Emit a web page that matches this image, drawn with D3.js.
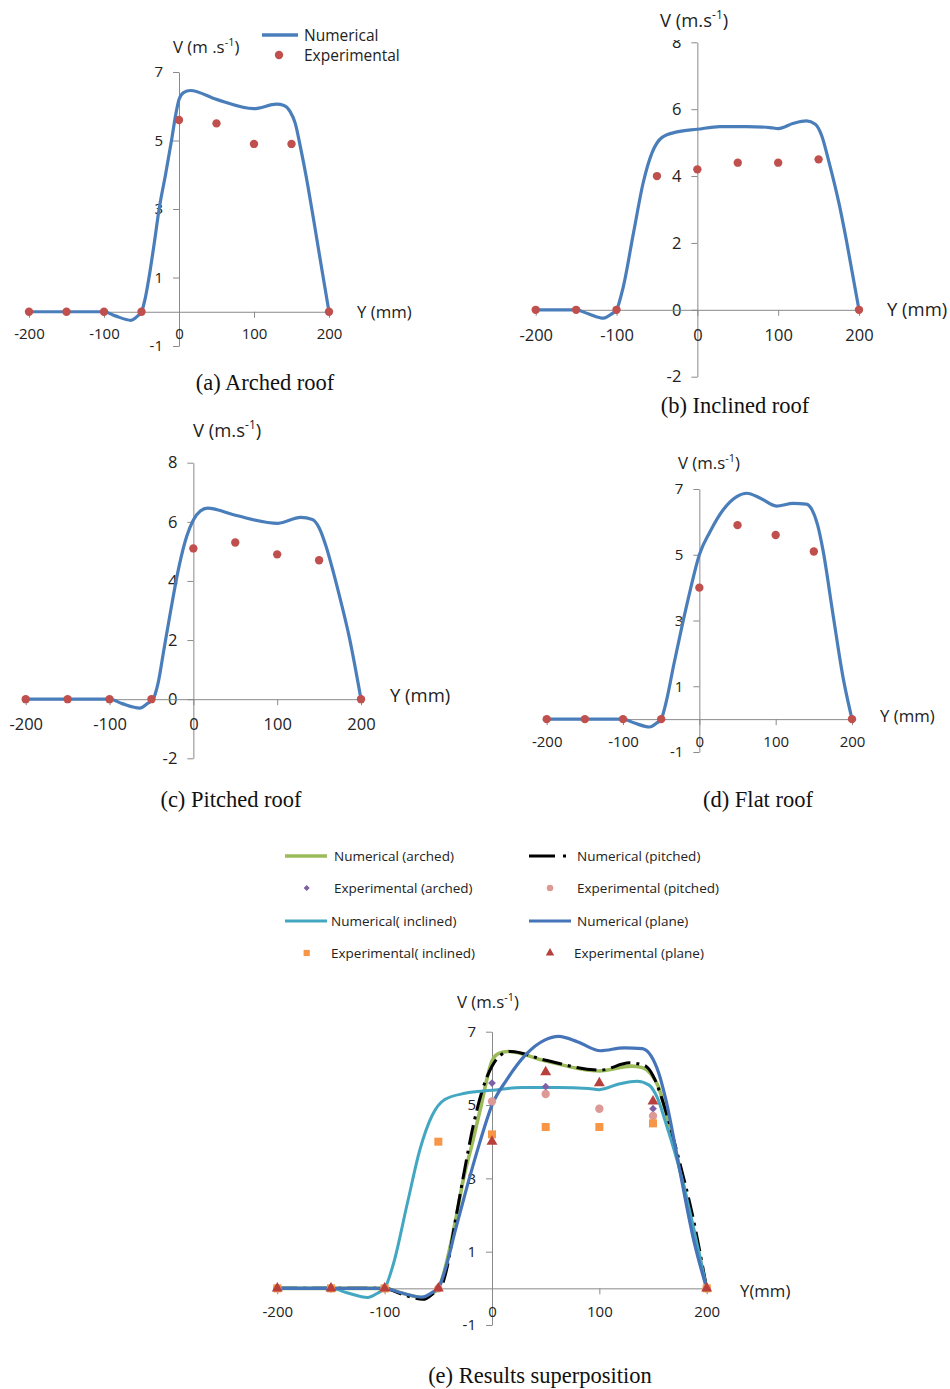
<!DOCTYPE html>
<html lang="en">
<head>
<meta charset="UTF-8">
<title>Velocity profiles</title>
<style>
  body { margin: 0; background: #fff; }
  svg text { font-family: "Open Sans", sans-serif; fill: #222; }
  svg text.cap { font-family: "Liberation Serif", serif; fill: #111; }
</style>
</head>
<body>
<div id="chart"></div>
<script src="https://cdn.jsdelivr.net/npm/d3@7/dist/d3.min.js"></script>
<script>
// ---- data ----
var xTicks = [-200, -100, 0, 100, 200];
var yTicksOdd = [-1, 1, 3, 5, 7];
var yTicksEven = [-2, 0, 2, 4, 6, 8];

// measurement positions, mm
var expY = [-200, -150, -100, -50, 0, 50, 100, 150, 200];
var expArched   = [0, 0, 0, 0,   5.6, 5.5, 4.9, 4.9, 0];
var expInclined = [0, 0, 0, 4.0, 4.2, 4.4, 4.4, 4.5, 0];
var expPitched  = [0, 0, 0, 0,   5.1, 5.3, 4.9, 4.7, 0];
var expPlane    = [0, 0, 0, 0,   4.0, 5.9, 5.6, 5.1, 0];

// numerical profiles [Y mm, V m/s]
var numArched = [[-200,0],[-150,0],[-100,0],[-85,-0.12],[-64,-0.25],[-55,-0.12],[-50,0],[-45,0.4],[-40,1],
  [-33,2],[-26.5,3],[-18,4],[-10,5],[-4,5.8],[0,6.2],[6,6.4],[15,6.46],[50,6.2],[100,5.93],[130,6.06],
  [140,6.02],[148,5.85],[155,5.5],[162,4.8],[170,3.9],[179,2.75],[190,1.3],[200,0]];
var numInclined = [[-200,0],[-150,0],[-135,-0.12],[-116,-0.25],[-106,-0.12],[-100,0],[-92,0.65],[-79,2.3],
  [-67,3.8],[-56,4.7],[-44,5.15],[-25,5.32],[0,5.4],[28,5.48],[61,5.48],[90,5.45],[100,5.42],[119,5.58],
  [135,5.65],[146,5.55],[154,5.2],[162,4.5],[176,3.1],[185,2.0],[200,0]];
var numPitched = [[-200,0],[-150,0],[-100,0],[-85,-0.15],[-64,-0.3],[-55,-0.15],[-48,0],[-42,0.55],[-35,1.7],
  [-27,3.0],[-17,4.5],[-8,5.5],[0,6.06],[8,6.36],[17,6.46],[49,6.23],[101,5.95],[128,6.15],[142,6.08],
  [150,5.8],[158,5.2],[167,4.3],[176,3.3],[186,2.1],[200,0]];
var numPlane = [[-200,0],[-150,0],[-100,0],[-85,-0.12],[-65,-0.24],[-56,-0.12],[-50,0],[-43,0.57],[-34,1.6],
  [-23,2.8],[-12,3.92],[0,5.0],[14,5.7],[31,6.36],[49,6.77],[62,6.87],[80,6.72],[101,6.48],[123,6.56],
  [140,6.54],[148,6.35],[155,5.9],[162,5.14],[175,3.2],[188,1.3],[200,0]];

var blue = "#4a7ebb", red = "#c0504d";

var svg = d3.select("#chart").append("svg")
    .attr("width", 950)
    .attr("height", 1389);

// the top of panel (b)'s "8" is cut off in the source figure
svg.append("defs").append("clipPath").attr("id", "clipB")
  .append("rect").attr("x", -100).attr("y", 40).attr("width", 120).attr("height", 400);

var line = function (x, y) {
  return d3.line()
    .x(function (d) { return x(d[0]); })
    .y(function (d) { return y(d[1]); })
    .curve(d3.curveMonotoneX);
};

function drawMarks(g, x, y, vals, m) {
  g.append("g").selectAll("path")
    .data(vals)
    .enter()
    .append("path")
    .attr("transform", function (d, i) { return "translate(" + x(expY[i]) + "," + y(d) + ")" + (m.rot ? " rotate(45)" : ""); })
    .attr("d", d3.symbol().type(m.shape).size(m.size))
    .attr("fill", m.color);
}

function vTitle(g, txt, px, py, fs) {
  var t = g.append("text").attr("x", px).attr("y", py + fs * 0.36).style("font-size", fs + "px");
  t.append("tspan").text(txt);
  t.append("tspan").attr("dy", -fs * 0.4).style("font-size", (fs * 0.65) + "px").text("-1");
  t.append("tspan").attr("dy", fs * 0.4).text(")");
}

function drawPanel(p) {
  var g = svg.append("g");
  var x = d3.scaleLinear().domain([-200, 200]).range([p.x0, p.x1]);
  var y = d3.scaleLinear().domain([p.yTicks[0], p.yTicks[p.yTicks.length - 1]]).range([p.yBot, p.yTop]);

  var ya = g.append("g")
    .attr("transform", "translate(" + x(0) + ",0)")
    .call(d3.axisLeft(y).tickValues(p.yTicks).tickSize(6).tickSizeOuter(0).tickPadding(10)
      .tickFormat(function (d) { return String(d); }));
  if (p.clip) ya.attr("clip-path", "url(#" + p.clip + ")");

  var xa = g.append("g")
    .attr("transform", "translate(0," + y(0) + ")")
    .call(d3.axisBottom(x).tickValues(xTicks).tickSize(6).tickSizeOuter(0).tickPadding(p.xPad)
      .tickFormat(function (d) { return String(d); }));

  [ya, xa].forEach(function (a) {
    a.selectAll("path, line").attr("stroke", "#8a8a8a").attr("stroke-width", 1);
    a.selectAll("text").attr("fill", "#222").style("font-size", p.fs + "px")
      .style("font-family", "'Open Sans', sans-serif");
  });

  p.lines.forEach(function (l) {
    g.append("path")
      .datum(l.data)
      .attr("d", line(x, y))
      .attr("fill", "none")
      .attr("stroke", l.color)
      .attr("stroke-width", l.width)
      .attr("stroke-dasharray", l.dash || null);
  });
  p.marks.forEach(function (m) { drawMarks(g, x, y, m.values, m); });

  var tf = p.fs * 1.12;
  vTitle(g, p.vText, p.vPos[0], p.vPos[1], tf);
  g.append("text").attr("x", p.yLab[0]).attr("y", p.yLab[1] + tf * 0.36)
    .style("font-size", tf + "px").text(p.yText);
  g.append("text").attr("class", "cap").attr("x", p.capPos[0]).attr("y", p.capPos[1] + 7)
    .attr("text-anchor", "middle").style("font-size", "22.5px").text(p.cap);
}

function single(num, exp) {
  return {
    lines: [{ data: num, color: blue, width: 3.2 }],
    marks: [{ values: exp, color: red, shape: d3.symbolCircle, size: 55 }]
  };
}

var panels = [
  Object.assign({ x0: 29, x1: 329, yTop: 72, yBot: 346, yTicks: yTicksOdd, fs: 15, xPad: 11,
    vText: "V (m .s", vPos: [173, 47], yText: "Y (mm)", yLab: [357, 312], cap: "(a) Arched roof", capPos: [265, 383] },
    single(numArched, expArched)),
  Object.assign({ x0: 535.7, x1: 859, yTop: 42.3, yBot: 376.7, yTicks: yTicksEven, fs: 16.5, xPad: 13, clip: "clipB",
    vText: "V (m.s", vPos: [660, 20], yText: "Y (mm)", yLab: [887, 309], cap: "(b) Inclined roof", capPos: [735, 406] },
    single(numInclined, expInclined)),
  Object.assign({ x0: 25.7, x1: 361, yTop: 462.7, yBot: 758.3, yTicks: yTicksEven, fs: 16.5, xPad: 13,
    vText: "V (m.s", vPos: [193, 430], yText: "Y (mm)", yLab: [390, 695], cap: "(c) Pitched roof", capPos: [231, 800] },
    single(numPitched, expPitched)),
  Object.assign({ x0: 546.7, x1: 852, yTop: 489, yBot: 752, yTicks: yTicksOdd, fs: 15, xPad: 11,
    vText: "V (m.s", vPos: [678, 463], yText: "Y (mm)", yLab: [880, 716], cap: "(d) Flat roof", capPos: [758, 800] },
    single(numPlane, expPlane))
];

// superposition panel
var sGreen = "#9bbb59", sCyan = "#43a7c2", sBlue = "#4574b8";
var mkArched   = { values: expArched,   color: "#7f60a6", shape: d3.symbolSquare, size: 30, rot: true };
var mkPitched  = { values: expPitched,  color: "#dd9996", shape: d3.symbolCircle, size: 55 };
var mkInclined = { values: expInclined, color: "#f79646", shape: d3.symbolSquare, size: 64 };
var mkPlane    = { values: expPlane,    color: "#b8403c", shape: d3.symbolTriangle, size: 52 };
var lnArched   = { data: numArched,   color: sGreen, width: 3.6 };
var lnPitched  = { data: numPitched,  color: "#000", width: 3, dash: "20 6 3 6" };
var lnInclined = { data: numInclined, color: sCyan, width: 3 };
var lnPlane    = { data: numPlane,    color: sBlue, width: 3.2 };

panels.push({ x0: 277.3, x1: 706.7, yTop: 1031.7, yBot: 1325, yTicks: yTicksOdd, fs: 15, xPad: 12,
  vText: "V (m.s", vPos: [457, 1002], yText: "Y(mm)", yLab: [740, 1291], cap: "(e) Results superposition", capPos: [540, 1376],
  lines: [lnArched, lnPitched, lnInclined, lnPlane],
  marks: [mkArched, mkPitched, mkInclined, mkPlane] });

panels.forEach(drawPanel);

// legend of panel (a)
var la = svg.append("g");
la.append("line").attr("x1", 262).attr("x2", 298).attr("y1", 35).attr("y2", 35)
  .attr("stroke", blue).attr("stroke-width", 3.5);
la.append("circle").attr("cx", 279).attr("cy", 55).attr("r", 4.2).attr("fill", red);
la.append("text").attr("x", 304).attr("y", 40.5).style("font-size", "15.5px").text("Numerical");
la.append("text").attr("x", 304).attr("y", 60.5).style("font-size", "15.5px").text("Experimental");

// legend of panel (e)
var legendRows = [
  { y: 856, items: [{ x: 285, tx: 334, line: lnArched, label: "Numerical (arched)" },
                    { x: 529, tx: 577, line: lnPitched, label: "Numerical (pitched)", dash: "26 8 3 20" }] },
  { y: 888, items: [{ x: 306.7, tx: 334, mark: mkArched, label: "Experimental (arched)" },
                    { x: 550, tx: 577, mark: mkPitched, label: "Experimental (pitched)" }] },
  { y: 921, items: [{ x: 285, tx: 331, line: lnInclined, label: "Numerical( inclined)" },
                    { x: 529, tx: 577, line: lnPlane, label: "Numerical (plane)" }] },
  { y: 953, items: [{ x: 306.7, tx: 331, mark: mkInclined, label: "Experimental( inclined)" },
                    { x: 550, tx: 574, mark: mkPlane, label: "Experimental (plane)" }] }
];
var le = svg.append("g");
legendRows.forEach(function (r) {
  r.items.forEach(function (it) {
    if (it.line) {
      le.append("line").attr("x1", it.x).attr("x2", it.x + (it.dash ? 40 : 42)).attr("y1", r.y).attr("y2", r.y)
        .attr("stroke", it.line.color).attr("stroke-width", it.line.width)
        .attr("stroke-dasharray", it.dash || null);
    } else {
      var m = it.mark;
      le.append("path")
        .attr("transform", "translate(" + it.x + "," + r.y + ")" + (m.rot ? " rotate(45)" : ""))
        .attr("d", d3.symbol().type(m.shape).size(m.size * 0.6))
        .attr("fill", m.color);
    }
    le.append("text").attr("x", it.tx).attr("y", r.y + 4.7).style("font-size", "13.5px").text(it.label);
  });
});
</script>
</body>
</html>
